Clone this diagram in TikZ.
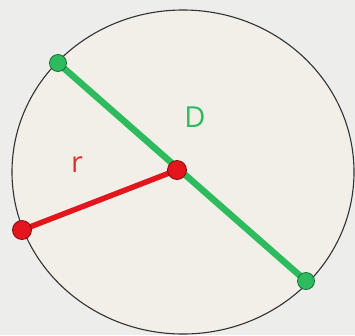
\documentclass[tikz,border=0pt]{standalone}
\usepackage{fontspec}
\setmainfont{Open Sans}
\definecolor{bgc}{RGB}{237,237,236}
\definecolor{fillc}{RGB}{241,239,232}
\definecolor{edgec}{RGB}{50,50,50}
\definecolor{grn}{RGB}{46,187,94}
\definecolor{grndk}{RGB}{25,110,55}
\definecolor{rd}{RGB}{226,22,28}
\definecolor{rddk}{RGB}{130,10,12}
\definecolor{rtext}{RGB}{222,48,48}
\tikzset{
  gdot/.style={circle,fill=grn,draw=grndk,line width=0.8pt,minimum size=17pt,inner sep=0pt},
  rdot/.style={circle,fill=rd,draw=rddk,line width=0.8pt,minimum size=19pt,inner sep=0pt},
  glin/.style={grn,line width=6.5pt},
  rlin/.style={rd,line width=5.5pt},
  lbl/.style={font=\fontsize{29}{31}\selectfont,inner sep=0pt}
}
\begin{document}
\begin{tikzpicture}[x=1pt,y=-1pt]
\fill[bgc] (0,0) rectangle (355,335);
\useasboundingbox (0,0) rectangle (355,335);
\draw[edgec,fill=fillc,line width=1.1pt] (183,172) ellipse [x radius=171,y radius=162];
\coordinate (gA) at (58,63);
\coordinate (gB) at (306,281);
\coordinate (cC) at (177,170);
\coordinate (rA) at (22,230);
\draw[glin] (gA) -- (gB);
\draw[rlin] (rA) -- (cC);
\node[gdot] (ga) at (gA) {};
\node[gdot] (gb) at (gB) {};
\node[rdot] (ra) at (rA) {};
\node[rdot] (c) at (cC) {};
\node[lbl,text=grn] (D) at (195,117) {D};
\node[lbl,text=rtext] (r) at (77,165) {r};
\end{tikzpicture}
\end{document}
